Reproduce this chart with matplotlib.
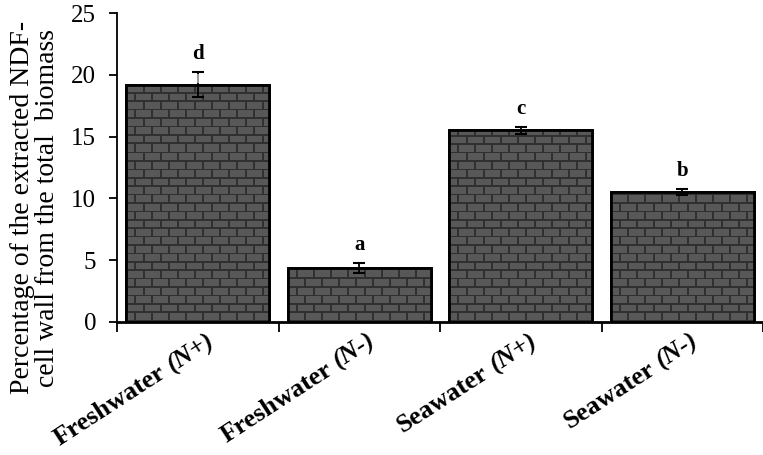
import numpy as np
import matplotlib
matplotlib.use('Agg')
import matplotlib.pyplot as plt
from matplotlib.transforms import offset_copy

plt.rcParams['font.family'] = ['Liberation Serif', 'DejaVu Serif']

categories = ['Freshwater', 'Freshwater', 'Seawater', 'Seawater']
conditions = ['(N+)', '(N-)', '(N+)', '(N-)']
values = [19.2, 4.4, 15.5, 10.5]
errors = [1.0, 0.4, 0.3, 0.25]
letters = ['d', 'a', 'c', 'b']

W, H = 763, 455
fig = plt.figure(figsize=(W / 100, H / 100), dpi=100)
ax = fig.add_axes([117 / W, 1 - 322 / H, (W - 117) / W, (322 - 13) / H])

x = np.arange(len(values))
bars = ax.bar(x, values, width=0.885, color='#555555', edgecolor='black',
              linewidth=2, zorder=2)
ax.errorbar(x, values, yerr=errors, fmt='none', ecolor='black', elinewidth=1.3,
            capsize=4.3, capthick=1.5, zorder=4)
# the first whisker shows grey above the bar in the original
ax.vlines(x[0], values[0] + 0.15, values[0] + errors[0] - 0.1, color='#999999',
          linewidth=1.5, zorder=5)

ax.set_xlim(-0.5, len(values) - 0.5)
ax.set_ylim(0, 25)

# brick texture, one pixel per screen pixel of the axes
pw, ph = W - 117, 322 - 13
yy, xx = np.mgrid[0:ph, 0:pw]
row = (ph - 1 - yy) // 8.4
off = np.where(row % 2 == 0, 0, 8.5)
tex = np.full((ph, pw, 3), 0x58 / 255)
mortar = (((ph - 1 - yy) % 8.4) < 1.6) | (((xx + off) % 17) < 1.6)
tex[mortar] = 0x30 / 255
for b in bars:
    im = ax.imshow(tex, extent=[-0.5, len(values) - 0.5, 0, 25], aspect='auto',
                   interpolation='nearest', zorder=3)
    im.set_clip_path(b)
for b in bars:
    r = plt.Rectangle(b.get_xy(), b.get_width(), b.get_height(), fill=False,
                      edgecolor='black', linewidth=2, zorder=3.5)
    ax.add_patch(r)

for xi, v, e, s in zip(x, values, errors, letters):
    ax.text(xi, v + e + 0.65, s, ha='center', va='bottom', fontsize=15,
            fontweight='bold')

ax.set_yticks(range(0, 26, 5))
ax.tick_params(axis='y', labelsize=18, width=1.3, length=6, pad=9,
               direction='out')
ax.set_xticks(np.arange(-0.5, len(values), 1.0), minor=True)
ax.set_xticks(x)
ax.set_xticklabels([])
ax.tick_params(axis='x', which='major', length=0)
ax.tick_params(axis='x', which='minor', length=7, width=1.3, direction='out')

# category labels: bold name + bold italic condition, rotated together
rot = 33
fs = 19
rad = np.deg2rad(rot)
renderer = fig.canvas.get_renderer()
for xi, c, cond in zip(x, categories, conditions):
    ax.text(xi + 0.05, -0.6, cond, rotation=rot, rotation_mode='anchor',
            ha='right', va='top', fontsize=fs, fontweight='bold',
            fontstyle='italic')
    tmp = fig.text(0, 0, cond + ' ', fontsize=fs, fontweight='bold',
                   fontstyle='italic')
    w = tmp.get_window_extent(renderer).width
    tmp.remove()
    tr = offset_copy(ax.transData, fig=fig, x=-w * np.cos(rad),
                     y=-w * np.sin(rad), units='dots')
    ax.text(xi + 0.05, -0.6, c, rotation=rot, rotation_mode='anchor',
            ha='right', va='top', fontsize=fs, fontweight='bold',
            transform=tr)

ax.set_ylabel('Percentage of the extracted NDF-\ncell wall from the total  biomass',
              fontsize=20, linespacing=1.0)
ax.yaxis.set_label_coords(-0.089, 0.37)

for s in ['top', 'right']:
    ax.spines[s].set_visible(False)
ax.spines['left'].set_linewidth(1.3)
ax.spines['bottom'].set_linewidth(2)

fig.savefig('out.png', dpi=100)
